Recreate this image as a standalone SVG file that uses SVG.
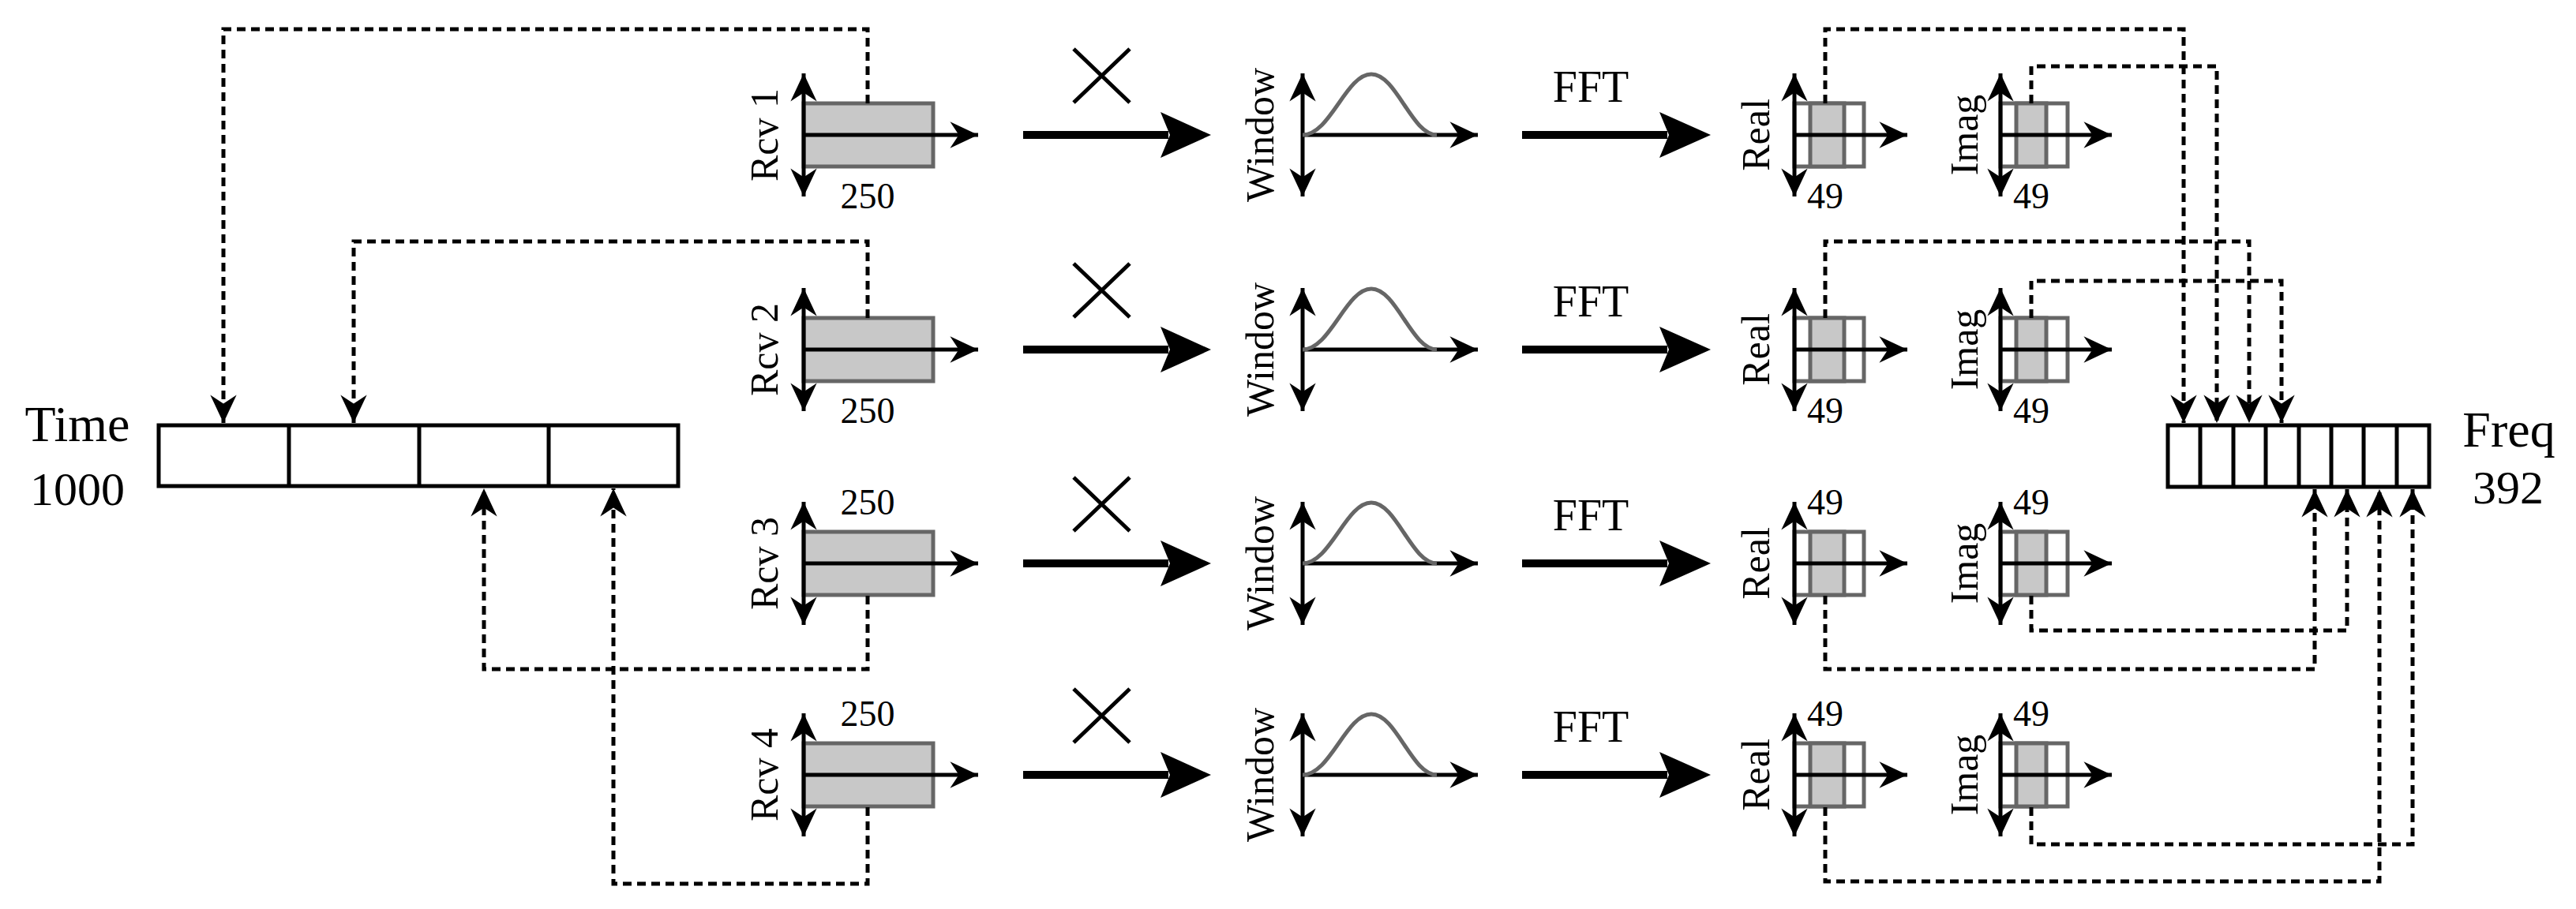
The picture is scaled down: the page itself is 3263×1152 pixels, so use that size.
<svg xmlns="http://www.w3.org/2000/svg" width="3263" height="1152" viewBox="0 0 3263 1152">
<defs>
<marker id="ah" markerUnits="userSpaceOnUse" markerWidth="40" markerHeight="40" viewBox="-34 -17 36 34" refX="0" refY="0" orient="auto-start-reverse"><path d="M0,0 L-32,-15 L-22,0 L-32,15 Z" fill="#000"/></marker>
</defs>
<style>
text{font-family:"Liberation Serif",serif;fill:#000}
.lbl{font-size:50px;text-anchor:middle}
.num{font-size:46px;text-anchor:middle}
.ax{stroke:#000;stroke-width:5;fill:none}
.dbl{stroke:#000;stroke-width:5;marker-start:url(#ah);marker-end:url(#ah)}
.one{stroke:#000;stroke-width:5;marker-end:url(#ah)}
.buf{fill:#c8c8c8;stroke:#666;stroke-width:5}
.wbuf{fill:#fff;stroke:#666;stroke-width:5}
.thick{stroke:#000;stroke-width:10}
.cur{stroke:#666;stroke-width:5;fill:none}
.arr{stroke:#000;stroke-width:5;fill:none}
.dash{stroke:#000;stroke-width:5;fill:none;stroke-dasharray:11 7;marker-end:url(#ah)}
</style>
<g id="time">
<rect x="201" y="539" width="658" height="77" class="arr"/>
<line x1="366" y1="539" x2="366" y2="616" class="arr"/><line x1="531" y1="539" x2="531" y2="616" class="arr"/><line x1="695" y1="539" x2="695" y2="616" class="arr"/>
<text x="98" y="559" style="font-size:64px;text-anchor:middle">Time</text>
<text x="98" y="640" style="font-size:60px;text-anchor:middle">1000</text>
</g>
<g id="freq">
<rect x="2746" y="539" width="331" height="78" class="arr"/>
<path d="M2787,539V617M2829,539V617M2870,539V617M2912,539V617M2953,539V617M2994,539V617M3036,539V617" class="arr"/>
<text x="3178" y="566" style="font-size:64px;text-anchor:middle">Freq</text>
<text x="3177" y="638" style="font-size:60px;text-anchor:middle">392</text>
</g>
<g id="row1" transform="translate(0,171)">
<rect x="1018" y="-40" width="164" height="80" class="buf"/><line x1="1018" y1="0" x2="1239" y2="0" class="one"/><line x1="1018" y1="-78" x2="1018" y2="78" class="dbl"/>
<text class="lbl" transform="translate(985,0) rotate(-90)">Rcv 1</text><text class="num" x="1099" y="93">250</text>
<path d="M1360,-109L1431,-41M1431,-109L1360,-41" class="ax"/>
<line x1="1296" y1="0" x2="1480" y2="0" class="thick"/><path d="M1470,-29L1534,0L1470,29L1482,0Z"/>
<line x1="1650" y1="-78" x2="1650" y2="78" class="dbl"/><line x1="1650" y1="0" x2="1872" y2="0" class="one"/>
<path d="M1650,0 C1685,0 1705,-77 1737,-77 C1769,-77 1788,0 1820,0" class="cur"/>
<text class="lbl" transform="translate(1613,0) rotate(-90)">Window</text>
<text x="2015" y="-42" style="font-size:56px;text-anchor:middle">FFT</text>
<line x1="1928" y1="0" x2="2112" y2="0" class="thick"/><path d="M2102,-29L2167,0L2102,29L2114,0Z"/>
<rect x="2273" y="-40" width="88" height="80" class="wbuf"/><rect x="2293" y="-40" width="43" height="80" class="buf"/><line x1="2273" y1="0" x2="2416" y2="0" class="one"/><line x1="2273" y1="-78" x2="2273" y2="78" class="dbl"/>
<text class="lbl" transform="translate(2241,0) rotate(-90)">Real</text><text class="num" x="2312" y="93">49</text>
<rect x="2534" y="-40" width="85" height="80" class="wbuf"/><rect x="2554" y="-40" width="38" height="80" class="buf"/><line x1="2534" y1="0" x2="2675" y2="0" class="one"/><line x1="2534" y1="-78" x2="2534" y2="78" class="dbl"/>
<text class="lbl" transform="translate(2505,0) rotate(-90)">Imag</text><text class="num" x="2573" y="93">49</text>
</g>
<g id="row2" transform="translate(0,443)">
<rect x="1018" y="-40" width="164" height="80" class="buf"/><line x1="1018" y1="0" x2="1239" y2="0" class="one"/><line x1="1018" y1="-78" x2="1018" y2="78" class="dbl"/>
<text class="lbl" transform="translate(985,0) rotate(-90)">Rcv 2</text><text class="num" x="1099" y="93">250</text>
<path d="M1360,-109L1431,-41M1431,-109L1360,-41" class="ax"/>
<line x1="1296" y1="0" x2="1480" y2="0" class="thick"/><path d="M1470,-29L1534,0L1470,29L1482,0Z"/>
<line x1="1650" y1="-78" x2="1650" y2="78" class="dbl"/><line x1="1650" y1="0" x2="1872" y2="0" class="one"/>
<path d="M1650,0 C1685,0 1705,-77 1737,-77 C1769,-77 1788,0 1820,0" class="cur"/>
<text class="lbl" transform="translate(1613,0) rotate(-90)">Window</text>
<text x="2015" y="-42" style="font-size:56px;text-anchor:middle">FFT</text>
<line x1="1928" y1="0" x2="2112" y2="0" class="thick"/><path d="M2102,-29L2167,0L2102,29L2114,0Z"/>
<rect x="2273" y="-40" width="88" height="80" class="wbuf"/><rect x="2293" y="-40" width="43" height="80" class="buf"/><line x1="2273" y1="0" x2="2416" y2="0" class="one"/><line x1="2273" y1="-78" x2="2273" y2="78" class="dbl"/>
<text class="lbl" transform="translate(2241,0) rotate(-90)">Real</text><text class="num" x="2312" y="93">49</text>
<rect x="2534" y="-40" width="85" height="80" class="wbuf"/><rect x="2554" y="-40" width="38" height="80" class="buf"/><line x1="2534" y1="0" x2="2675" y2="0" class="one"/><line x1="2534" y1="-78" x2="2534" y2="78" class="dbl"/>
<text class="lbl" transform="translate(2505,0) rotate(-90)">Imag</text><text class="num" x="2573" y="93">49</text>
</g>
<g id="row3" transform="translate(0,714)">
<rect x="1018" y="-40" width="164" height="80" class="buf"/><line x1="1018" y1="0" x2="1239" y2="0" class="one"/><line x1="1018" y1="-78" x2="1018" y2="78" class="dbl"/>
<text class="lbl" transform="translate(985,0) rotate(-90)">Rcv 3</text><text class="num" x="1099" y="-62">250</text>
<path d="M1360,-109L1431,-41M1431,-109L1360,-41" class="ax"/>
<line x1="1296" y1="0" x2="1480" y2="0" class="thick"/><path d="M1470,-29L1534,0L1470,29L1482,0Z"/>
<line x1="1650" y1="-78" x2="1650" y2="78" class="dbl"/><line x1="1650" y1="0" x2="1872" y2="0" class="one"/>
<path d="M1650,0 C1685,0 1705,-77 1737,-77 C1769,-77 1788,0 1820,0" class="cur"/>
<text class="lbl" transform="translate(1613,0) rotate(-90)">Window</text>
<text x="2015" y="-42" style="font-size:56px;text-anchor:middle">FFT</text>
<line x1="1928" y1="0" x2="2112" y2="0" class="thick"/><path d="M2102,-29L2167,0L2102,29L2114,0Z"/>
<rect x="2273" y="-40" width="88" height="80" class="wbuf"/><rect x="2293" y="-40" width="43" height="80" class="buf"/><line x1="2273" y1="0" x2="2416" y2="0" class="one"/><line x1="2273" y1="-78" x2="2273" y2="78" class="dbl"/>
<text class="lbl" transform="translate(2241,0) rotate(-90)">Real</text><text class="num" x="2312" y="-62">49</text>
<rect x="2534" y="-40" width="85" height="80" class="wbuf"/><rect x="2554" y="-40" width="38" height="80" class="buf"/><line x1="2534" y1="0" x2="2675" y2="0" class="one"/><line x1="2534" y1="-78" x2="2534" y2="78" class="dbl"/>
<text class="lbl" transform="translate(2505,0) rotate(-90)">Imag</text><text class="num" x="2573" y="-62">49</text>
</g>
<g id="row4" transform="translate(0,982)">
<rect x="1018" y="-40" width="164" height="80" class="buf"/><line x1="1018" y1="0" x2="1239" y2="0" class="one"/><line x1="1018" y1="-78" x2="1018" y2="78" class="dbl"/>
<text class="lbl" transform="translate(985,0) rotate(-90)">Rcv 4</text><text class="num" x="1099" y="-62">250</text>
<path d="M1360,-109L1431,-41M1431,-109L1360,-41" class="ax"/>
<line x1="1296" y1="0" x2="1480" y2="0" class="thick"/><path d="M1470,-29L1534,0L1470,29L1482,0Z"/>
<line x1="1650" y1="-78" x2="1650" y2="78" class="dbl"/><line x1="1650" y1="0" x2="1872" y2="0" class="one"/>
<path d="M1650,0 C1685,0 1705,-77 1737,-77 C1769,-77 1788,0 1820,0" class="cur"/>
<text class="lbl" transform="translate(1613,0) rotate(-90)">Window</text>
<text x="2015" y="-42" style="font-size:56px;text-anchor:middle">FFT</text>
<line x1="1928" y1="0" x2="2112" y2="0" class="thick"/><path d="M2102,-29L2167,0L2102,29L2114,0Z"/>
<rect x="2273" y="-40" width="88" height="80" class="wbuf"/><rect x="2293" y="-40" width="43" height="80" class="buf"/><line x1="2273" y1="0" x2="2416" y2="0" class="one"/><line x1="2273" y1="-78" x2="2273" y2="78" class="dbl"/>
<text class="lbl" transform="translate(2241,0) rotate(-90)">Real</text><text class="num" x="2312" y="-62">49</text>
<rect x="2534" y="-40" width="85" height="80" class="wbuf"/><rect x="2554" y="-40" width="38" height="80" class="buf"/><line x1="2534" y1="0" x2="2675" y2="0" class="one"/><line x1="2534" y1="-78" x2="2534" y2="78" class="dbl"/>
<text class="lbl" transform="translate(2505,0) rotate(-90)">Imag</text><text class="num" x="2573" y="-62">49</text>
</g>
<g id="connectors">
<path d="M1099,131V37H283V536" class="dash"/>
<path d="M1099,403V306H448V536" class="dash"/>
<path d="M1099,755V848H613V619" class="dash"/>
<path d="M1099,1023V1120H777V619" class="dash"/>
<path d="M2312,131V37H2766V536" class="dash"/>
<path d="M2573,131V84H2808V536" class="dash"/>
<path d="M2312,403V306H2849V536" class="dash"/>
<path d="M2573,403V356H2890V536" class="dash"/>
<path d="M2312,755V848H2932V620" class="dash"/>
<path d="M2573,755V799H2973V620" class="dash"/>
<path d="M2312,1023V1117H3014V620" class="dash"/>
<path d="M2573,1023V1070H3056V620" class="dash"/>
</g>
</svg>
